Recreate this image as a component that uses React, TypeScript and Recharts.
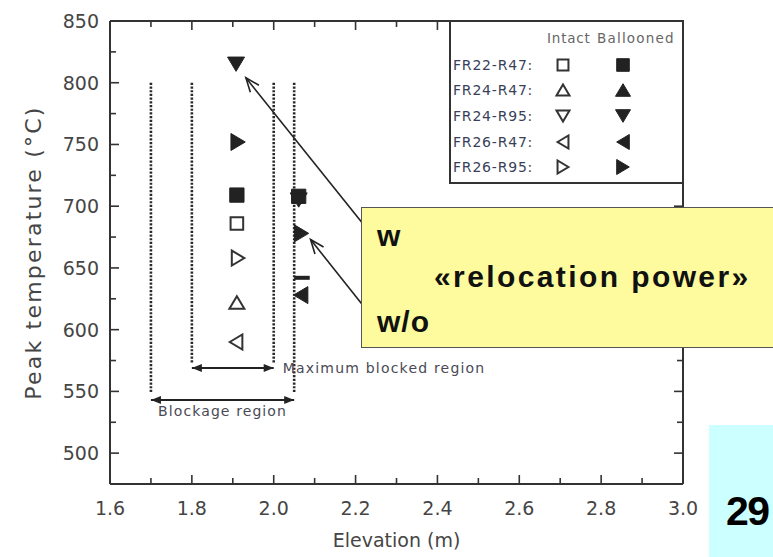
import React from 'react';
import { ScatterChart, Scatter, XAxis, YAxis, ReferenceLine } from 'recharts';

type Pt = { x: number; y: number };

// axis ticks (minor + major) and the labels shown on majors
const xTicks = [1.6, 1.7, 1.8, 1.9, 2.0, 2.1, 2.2, 2.3, 2.4, 2.5, 2.6, 2.7, 2.8, 2.9, 3.0];
const xLabels = ['1.6', '1.8', '2.0', '2.2', '2.4', '2.6', '2.8', '3.0'];
const yTicks = [475, 500, 525, 550, 575, 600, 625, 650, 675, 700, 725, 750, 775, 800, 825, 850];
const yLabels = ['500', '550', '600', '650', '700', '750', '800', '850'];

const designs = ['FR22-R47', 'FR24-R47', 'FR24-R95', 'FR26-R47', 'FR26-R95'];
const markerKinds = ['square', 'up', 'down', 'left', 'right'];

// intact rods (open markers)
const intactFR22R47: Pt[] = [{ x: 1.91, y: 686 }];
const intactFR24R47: Pt[] = [{ x: 1.91, y: 622 }];
const intactFR24R95: Pt[] = [];
const intactFR26R47: Pt[] = [{ x: 1.908, y: 590 }];
const intactFR26R95: Pt[] = [{ x: 1.913, y: 658 }];

// ballooned rods (filled markers)
const balloonedFR22R47: Pt[] = [{ x: 1.91, y: 709 }, { x: 2.061, y: 708 }];
const balloonedFR24R47: Pt[] = [];
const balloonedFR24R95: Pt[] = [{ x: 1.908, y: 815 }, { x: 2.061, y: 705 }];
const balloonedFR26R47: Pt[] = [{ x: 2.066, y: 628 }];
const balloonedFR26R95: Pt[] = [{ x: 1.913, y: 752 }, { x: 2.068, y: 678 }];

const intact = [intactFR22R47, intactFR24R47, intactFR24R95, intactFR26R47, intactFR26R95];
const ballooned = [balloonedFR22R47, balloonedFR24R47, balloonedFR24R95, balloonedFR26R47, balloonedFR26R95];

// dotted region boundaries
const regionX = [1.7, 1.8, 2.0, 2.05];
const regionTop = [800, 800, 800, 800];
const regionBottom = [549, 573, 573, 549];

// annotation arrows (data units)
const maxBlocked: Pt[] = [{ x: 1.8, y: 569 }, { x: 2.0, y: 569 }];
const blockage: Pt[] = [{ x: 1.7, y: 543 }, { x: 2.05, y: 543 }];
const arrowWith: Pt[] = [{ x: 2.215, y: 687 }, { x: 1.932, y: 804 }];
const arrowWithout: Pt[] = [{ x: 2.227, y: 616 }, { x: 2.09, y: 673 }];
const stray: Pt[] = [{ x: 2.05, y: 642 }, { x: 2.088, y: 642 }];

const FONT = '"DejaVu Sans", sans-serif';
const INK = '#222';

function markerPath(kind: string, cx: number, cy: number, s: number) {
  const h = s / 2;
  const t = s * 0.42;
  if (kind === 'square') {
    const q = s * 0.42;
    return `M${cx - q},${cy - q}H${cx + q}V${cy + q}H${cx - q}Z`;
  }
  if (kind === 'up') return `M${cx},${cy - t}L${cx + h},${cy + t}L${cx - h},${cy + t}Z`;
  if (kind === 'down') return `M${cx},${cy + t}L${cx + h},${cy - t}L${cx - h},${cy - t}Z`;
  if (kind === 'left') return `M${cx - t},${cy}L${cx + t},${cy - h}L${cx + t},${cy + h}Z`;
  return `M${cx + t},${cy}L${cx - t},${cy - h}L${cx - t},${cy + h}Z`;
}

function Marker({ kind, cx, cy, filled, s }: { kind: string; cx: number; cy: number; filled: boolean; s: number }) {
  return (
    <path
      d={markerPath(kind, cx, cy, s)}
      fill={filled ? INK : 'none'}
      stroke={filled ? INK : '#333'}
      strokeWidth={filled ? 1 : 2}
      strokeLinejoin="miter"
    />
  );
}

const BottomTick = (p: any) => {
  const { x, y, payload } = p;
  const label = Number(payload.value).toFixed(1);
  const major = xLabels.includes(label);
  return (
    <g>
      <line x1={x} y1={y} x2={x} y2={y - (major ? 9 : 6)} stroke="#333" strokeWidth={1.6} />
      {major && (
        <text x={x} y={y + 31} textAnchor="middle" fontSize={19} fontFamily={FONT} fill="#454545">
          {label}
        </text>
      )}
    </g>
  );
};

const TopTick = (p: any) => {
  const { x, y, payload } = p;
  const major = xLabels.includes(Number(payload.value).toFixed(1));
  return <line x1={x} y1={y} x2={x} y2={y + (major ? 9 : 6)} stroke="#333" strokeWidth={1.6} />;
};

const LeftTick = (p: any) => {
  const { x, y, payload } = p;
  const label = String(payload.value);
  const major = yLabels.includes(label);
  return (
    <g>
      <line x1={x} y1={y} x2={x + (major ? 9 : 6)} y2={y} stroke="#333" strokeWidth={1.6} />
      {major && (
        <text x={x - 11} y={y + 7} textAnchor="end" fontSize={19} fontFamily={FONT} fill="#454545">
          {label}
        </text>
      )}
    </g>
  );
};

const RightTick = (p: any) => {
  const { x, y, payload } = p;
  const major = yLabels.includes(String(payload.value));
  return <line x1={x} y1={y} x2={x - (major ? 9 : 6)} y2={y} stroke="#333" strokeWidth={1.6} />;
};

function arrowShape(both: boolean, solid: boolean) {
  return (p: any) => {
    const { x1, y1, x2, y2 } = p;
    const head = (tx: number, ty: number, fx: number, fy: number) => {
      const a = Math.atan2(ty - fy, tx - fx);
      const L = solid ? 10 : 14;
      const w = solid ? 4 : 5.5;
      const bx = tx - L * Math.cos(a);
      const by = ty - L * Math.sin(a);
      const px = -Math.sin(a) * w;
      const py = Math.cos(a) * w;
      return solid ? (
        <path d={`M${tx},${ty}L${bx + px},${by + py}L${bx - px},${by - py}Z`} fill={INK} />
      ) : (
        <path d={`M${bx + px},${by + py}L${tx},${ty}L${bx - px},${by - py}`} fill="none" stroke={INK} strokeWidth={1.6} />
      );
    };
    return (
      <g>
        <line x1={x1} y1={y1} x2={x2} y2={y2} stroke={INK} strokeWidth={solid ? 2 : 1.6} />
        {both && head(x1, y1, x2, y2)}
        {head(x2, y2, x1, y1)}
      </g>
    );
  };
}

const legendText: React.CSSProperties = {
  position: 'absolute',
  fontFamily: FONT,
  fontSize: 14,
  letterSpacing: 0.8,
  color: '#3a3f5a',
  lineHeight: '16px',
  whiteSpace: 'nowrap',
};

export default function App() {
  return (
    <div style={{ position: 'absolute', left: 0, top: 0, width: 773, height: 557, background: '#fff', overflow: 'hidden' }}>
      <ScatterChart width={773} height={557} margin={{ top: 20, right: 89, bottom: 0, left: 0 }}>
        <XAxis
          type="number"
          dataKey="x"
          domain={[1.6, 3.0]}
          ticks={xTicks}
          allowDataOverflow
          interval={0}
          height={73}
          tickSize={0}
          tickMargin={0}
          tickLine={false}
          tick={<BottomTick />}
          axisLine={{ stroke: '#333', strokeWidth: 2 }}
          label={{ value: 'Elevation (m)', position: 'insideBottom', offset: 10, fontSize: 19, fontFamily: FONT, fill: '#454545' }}
        />
        <XAxis
          xAxisId="top"
          orientation="top"
          type="number"
          dataKey="x"
          domain={[1.6, 3.0]}
          ticks={xTicks}
          allowDataOverflow
          interval={0}
          height={1}
          tickSize={0}
          tickMargin={0}
          tickLine={false}
          tick={<TopTick />}
          axisLine={{ stroke: '#333', strokeWidth: 2 }}
        />
        <YAxis
          type="number"
          dataKey="y"
          domain={[475, 850]}
          ticks={yTicks}
          allowDataOverflow
          interval={0}
          width={110}
          tickSize={0}
          tickMargin={0}
          tickLine={false}
          tick={<LeftTick />}
          axisLine={{ stroke: '#333', strokeWidth: 2 }}
          label={{
            value: 'Peak temperature (°C)',
            angle: -90,
            position: 'insideLeft',
            offset: 33,
            fontSize: 22,
            fontFamily: FONT,
            fill: '#454545',
            letterSpacing: 2.2,
            style: { textAnchor: 'middle' },
          }}
        />
        <YAxis
          yAxisId="right"
          orientation="right"
          type="number"
          dataKey="y"
          domain={[475, 850]}
          ticks={yTicks}
          allowDataOverflow
          interval={0}
          width={1}
          tickSize={0}
          tickMargin={0}
          tickLine={false}
          tick={<RightTick />}
          axisLine={{ stroke: '#333', strokeWidth: 2 }}
        />

        {regionX.map((x, i) => (
          <ReferenceLine
            key={`r${i}`}
            segment={[{ x, y: regionTop[i] }, { x, y: regionBottom[i] }]}
            stroke="#2a2a2a"
            strokeWidth={2.6}
            strokeDasharray="2.2 1.5"
          />
        ))}

        <ReferenceLine
          segment={maxBlocked}
          shape={arrowShape(true, true)}
          label={{ value: 'Maximum blocked region', position: 'right', offset: 9, fontSize: 14, fontFamily: FONT, fill: '#4a4a55', letterSpacing: 1.2 }}
        />
        <ReferenceLine
          segment={blockage}
          shape={arrowShape(true, true)}
          label={{ value: 'Blockage region', position: 'bottom', offset: 6, fontSize: 14, fontFamily: FONT, fill: '#4a4a55', letterSpacing: 1.1 }}
        />
        <ReferenceLine segment={stray} stroke={INK} strokeWidth={4} />

        {designs.map((name, i) => (
          <Scatter
            key={`i${name}`}
            name={`${name} intact`}
            data={intact[i]}
            isAnimationActive={false}
            shape={(p: any) => <Marker kind={markerKinds[i]} cx={p.cx} cy={p.cy} filled={false} s={15} />}
          />
        ))}
        {designs.map((name, i) => (
          <Scatter
            key={`b${name}`}
            name={`${name} ballooned`}
            data={ballooned[i]}
            isAnimationActive={false}
            shape={(p: any) => <Marker kind={markerKinds[i]} cx={p.cx} cy={p.cy} filled s={17} />}
          />
        ))}
        <Scatter data={[]} xAxisId="top" yAxisId="right" isAnimationActive={false} />

        <ReferenceLine segment={arrowWith} ifOverflow="visible" shape={arrowShape(false, false)} />
        <ReferenceLine segment={arrowWithout} ifOverflow="visible" shape={arrowShape(false, false)} />
      </ScatterChart>

      {/* legend box */}
      <div
        style={{
          position: 'absolute',
          left: 449,
          top: 20,
          width: 231,
          height: 160,
          border: '2px solid #333',
          background: '#fff',
        }}
      >
        <div style={{ ...legendText, left: 96, top: 8, fontSize: 13.5, color: '#666', letterSpacing: 0.8 }}>Intact</div>
        <div style={{ ...legendText, left: 146, top: 8, fontSize: 13.5, color: '#666', letterSpacing: 1.2 }}>Ballooned</div>
        {designs.map((name, i) => {
          const top = [35, 60, 86, 112, 137][i];
          return (
            <React.Fragment key={name}>
              <div style={{ ...legendText, left: 2, top }}>{name}:</div>
              <svg style={{ position: 'absolute', left: 103, top: top - 1 }} width={18} height={18}>
                <Marker kind={markerKinds[i]} cx={9} cy={9} filled={false} s={13} />
              </svg>
              <svg style={{ position: 'absolute', left: 163, top: top - 1 }} width={18} height={18}>
                <Marker kind={markerKinds[i]} cx={9} cy={9} filled s={15} />
              </svg>
            </React.Fragment>
          );
        })}
      </div>

      {/* yellow call-out */}
      <div
        style={{
          position: 'absolute',
          left: 361,
          top: 207,
          width: 430,
          height: 139,
          background: '#fdfb9d',
          border: '1.5px solid #555',
          fontFamily: '"Liberation Sans", Arial, sans-serif',
          fontWeight: 700,
          color: '#111',
        }}
      >
        <div style={{ position: 'absolute', left: 15, top: 13, fontSize: 30, lineHeight: 1, letterSpacing: 1 }}>w</div>
        <div style={{ position: 'absolute', left: 72, top: 54, fontSize: 30, lineHeight: 1, letterSpacing: 2.4, whiteSpace: 'nowrap' }}>
          «relocation power»
        </div>
        <div style={{ position: 'absolute', left: 15, top: 99, fontSize: 30, lineHeight: 1, letterSpacing: 1 }}>w/o</div>
      </div>

      {/* page number */}
      <div style={{ position: 'absolute', left: 709, top: 425, width: 64, height: 132, background: '#ccffff' }}>
        <div
          style={{
            position: 'absolute',
            left: 17,
            top: 66,
            fontFamily: '"Liberation Sans", Arial, sans-serif',
            fontWeight: 700,
            fontSize: 41,
            letterSpacing: -1.5,
            lineHeight: 1,
            color: '#000',
            whiteSpace: 'nowrap',
          }}
        >
          29
        </div>
      </div>
    </div>
  );
}
